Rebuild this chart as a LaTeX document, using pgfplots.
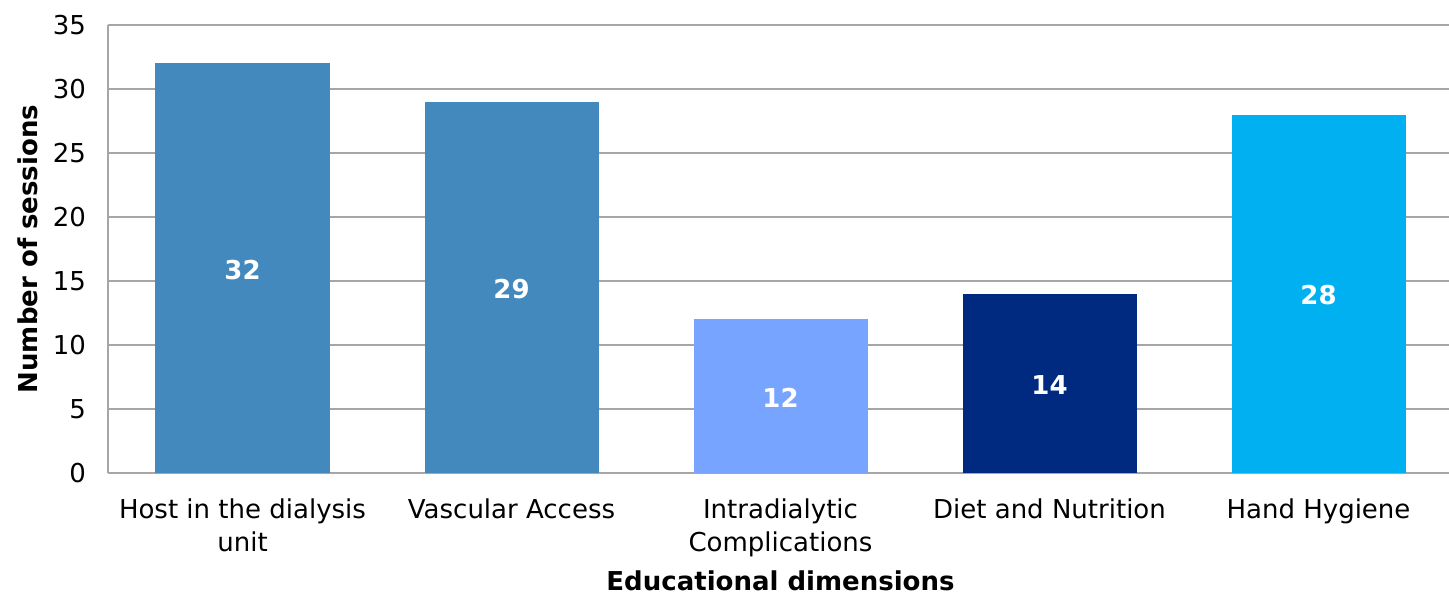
\documentclass[border=0pt]{standalone}
\usepackage{pgfplots}
\pgfplotsset{compat=1.18}
\usepackage{fontspec}
\setmainfont{DejaVu Sans}
\definecolor{barA}{HTML}{4389BD}
\definecolor{barC}{HTML}{76A4FF}
\definecolor{barD}{HTML}{002A7F}
\definecolor{barE}{HTML}{00B0F0}
\definecolor{gridc}{HTML}{A6A6A6}
\begin{document}
\begin{tikzpicture}
\begin{axis}[
  name=ax,
  scale only axis, width=1008.75pt, height=336pt,
  xmin=-0.5, xmax=4.5, ymin=0, ymax=35,
  ytick={0,5,...,35},
  xtick={0,1,2,3,4},
  xticklabels={{Host in the dialysis\\unit},{Vascular Access},{Intradialytic\\Complications},{Diet and Nutrition},{Hand Hygiene}},
  ybar, bar width=130.5pt, bar shift=0pt,
  axis lines*=left,
  axis line style={gridc, line width=1.2pt},
  ymajorgrids, grid style={gridc, line width=1.2pt},
  major tick length=0pt,
  /pgf/number format/assume math mode=true,
  tick label style={font=\fontsize{19.5}{24.5}\selectfont, text=black},
  yticklabel style={xshift=-13pt},
  xticklabel style={align=center, yshift=-16pt},
  xlabel={Educational dimensions},
  ylabel={Number of sessions},
  label style={font=\fontsize{19.5}{25.5}\selectfont\bfseries},
  xlabel style={at={(axis description cs:0.5,-0.2656)}, anchor=base, yshift=1.5pt},
  ylabel style={at={(axis description cs:-0.0525,0.5)}, anchor=base},
  nodes near coords,
  visualization depends on=rawy \as \rawy,
  every node near coord/.append style={anchor=center, text=white,
    font=\fontsize{19.5}{25.5}\selectfont\bfseries,
    shift={(axis direction cs:0,-\rawy/2)}, yshift=-1pt},
]
\addplot[fill=barA, draw=none] coordinates {(0,32)};
\addplot[fill=barA, draw=none] coordinates {(1,29)};
\addplot[fill=barC, draw=none] coordinates {(2,12)};
\addplot[fill=barD, draw=none] coordinates {(3,14)};
\addplot[fill=barE, draw=none] coordinates {(4,28)};
\end{axis}
\pgfresetboundingbox
\path ([shift={(-81pt,-90.75pt)}]ax.south west) rectangle ([shift={(-3pt,18.75pt)}]ax.north east);
\end{tikzpicture}
\end{document}
